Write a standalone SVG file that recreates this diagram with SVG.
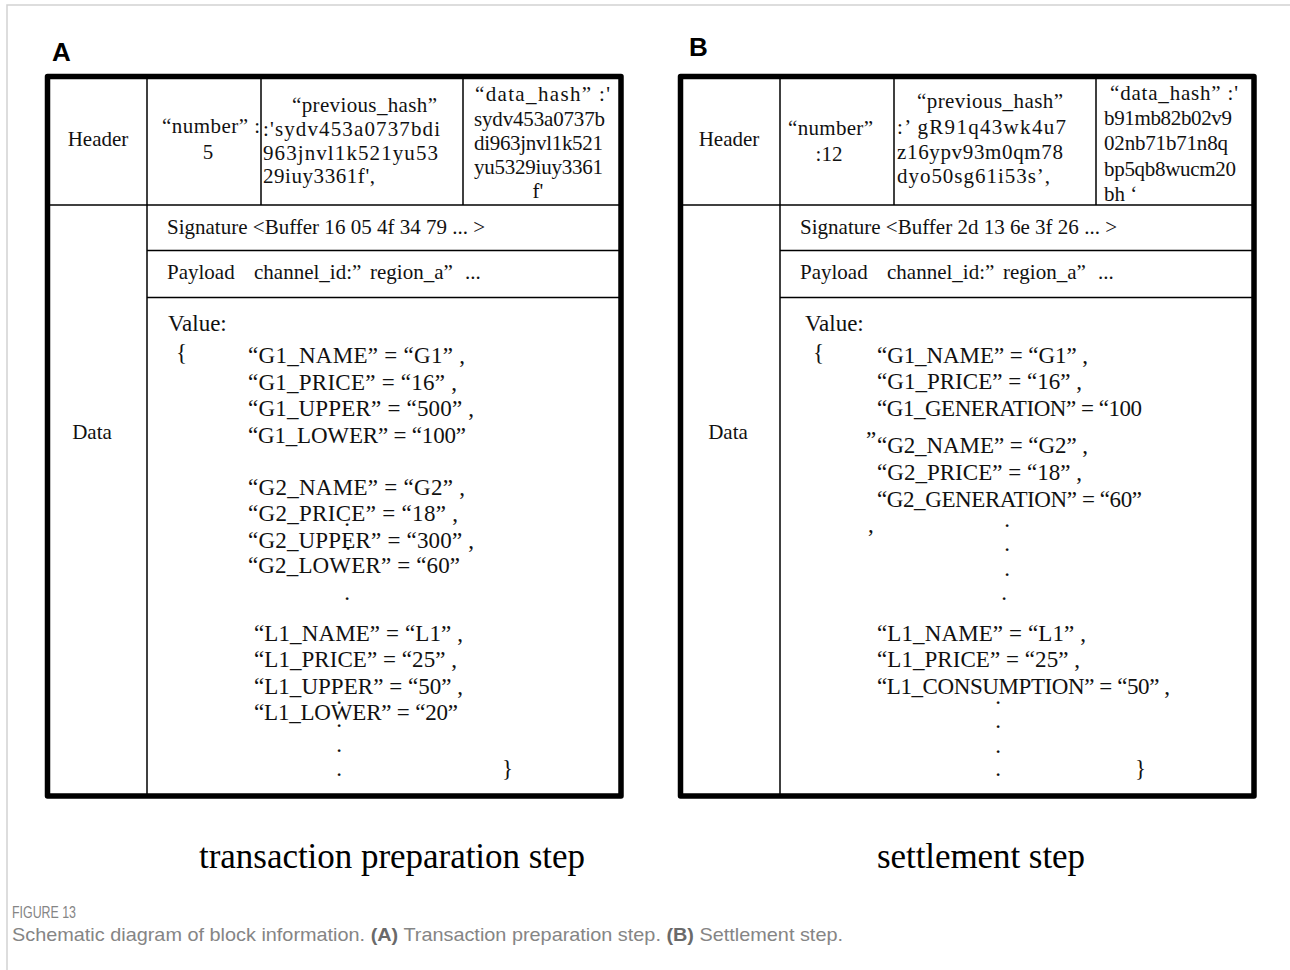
<svg xmlns="http://www.w3.org/2000/svg" width="1290" height="970" viewBox="0 0 1290 970">
  <style>
    .frame { stroke: #d2d2d2; stroke-width: 1.5; fill: none; }
    .outer { fill: none; stroke: #000; stroke-width: 5.5; stroke-linejoin: round; }
    .rule { stroke: #000; stroke-width: 1.5; }
    .t { font-family: "Liberation Serif", "Times New Roman", serif; font-size: 21px; fill: #111; }
    .v { font-size: 23px; }
    .mid { text-anchor: middle; }
    .panel { font-family: "Liberation Sans", Arial, sans-serif; font-weight: bold; font-size: 26px; fill: #000; }
    .step { font-family: "Liberation Serif", "Times New Roman", serif; font-size: 35px; fill: #000; }
    .fig { font-family: "Liberation Sans", Arial, sans-serif; fill: #858585; }
  </style>

  <rect width="1290" height="970" fill="#fff"/>
  <!-- page frame -->
  <path class="frame" d="M7 970 V5 H1290"/>

  <!-- panel letters -->
  <text class="panel" x="52" y="61">A</text>
  <text class="panel" x="689" y="56">B</text>

  <!-- ===== Block A ===== -->
  <g id="a-grid">
    <line class="rule" x1="147" y1="76" x2="147" y2="796"/>
    <line class="rule" x1="261" y1="76" x2="261" y2="205"/>
    <line class="rule" x1="463" y1="76" x2="463" y2="205"/>
    <line class="rule" x1="47.5" y1="205" x2="621" y2="205"/>
    <line class="rule" x1="147" y1="250.5" x2="621" y2="250.5"/>
    <line class="rule" x1="147" y1="297.5" x2="621" y2="297.5"/>
    <rect class="outer" x="47.5" y="76.5" width="573.5" height="719.5"/>
  </g>

  <g id="a-header-label">
    <text class="t mid" x="98" y="146">Header</text>
  </g>
  <g id="a-number">
    <text class="t" x="162" y="133" textLength="98">“number” :</text>
    <text class="t mid" x="208" y="159">5</text>
  </g>
  <g id="a-previous-hash">
    <text class="t" x="292" y="112" textLength="145">“previous_hash”</text>
    <text class="t" x="263" y="136" textLength="177">:'sydv453a0737bdi</text>
    <text class="t" x="263" y="160" textLength="175">963jnvl1k521yu53</text>
    <text class="t" x="263" y="183" textLength="112">29iuy3361f',</text>
  </g>
  <g id="a-data-hash">
    <text class="t" x="475" y="101" textLength="135">“data_hash” :'</text>
    <text class="t" x="474" y="126" textLength="131">sydv453a0737b</text>
    <text class="t" x="474" y="150" textLength="129">di963jnvl1k521</text>
    <text class="t" x="474" y="174" textLength="129">yu5329iuy3361</text>
    <text class="t mid" x="538" y="198">f'</text>
  </g>
  <g id="a-data-label">
    <text class="t mid" x="92" y="439">Data</text>
  </g>
  <g id="a-signature">
    <text class="t" x="167" y="234" textLength="318">Signature &lt;Buffer 16 05 4f 34 79  ... &gt;</text>
  </g>
  <g id="a-payload">
    <text class="t" y="279"><tspan x="167">Payload</tspan><tspan x="254">channel_id:”</tspan><tspan x="370">region_a”</tspan><tspan x="465">...</tspan></text>
  </g>
  <g id="a-value">
    <text class="t v" x="168" y="331">Value:</text>
    <text class="t v" x="176" y="360">{</text>
    <text class="t v" x="248" y="363" textLength="217">“G1_NAME” = “G1” ,</text>
    <text class="t v" x="248" y="390" textLength="209">“G1_PRICE” = “16” ,</text>
    <text class="t v" x="248" y="416" textLength="226">“G1_UPPER” = “500” ,</text>
    <text class="t v" x="248" y="443" textLength="218">“G1_LOWER” = “100”</text>
    <text class="t v" x="248" y="495" textLength="217">“G2_NAME” = “G2” ,</text>
    <text class="t v" x="248" y="521" textLength="210">“G2_PRICE” = “18” ,</text>
    <text class="t v" x="248" y="548" textLength="226">“G2_UPPER” = “300” ,</text>
    <text class="t v" x="248" y="573" textLength="212">“G2_LOWER” = “60”</text>
    <text class="t v" x="254" y="641" textLength="209">“L1_NAME” = “L1” ,</text>
    <text class="t v" x="254" y="667" textLength="203">“L1_PRICE” = “25” ,</text>
    <text class="t v" x="254" y="694" textLength="209">“L1_UPPER” = “50” ,</text>
    <text class="t v" x="254" y="720" textLength="204">“L1_LOWER” = “20”</text>
    <text class="t v" x="502" y="776">}</text>
    <!-- ellipsis dots running down the listing -->
    <g class="t v mid">
      <text x="347" y="526">.</text>
      <text x="348" y="550">.</text>
      <text x="347" y="600">.</text>
      <text x="339" y="704">.</text>
      <text x="339" y="727">.</text>
      <text x="339" y="752">.</text>
      <text x="339" y="776">.</text>
    </g>
  </g>

  <!-- ===== Block B ===== -->
  <g id="b-grid">
    <line class="rule" x1="780" y1="76" x2="780" y2="796"/>
    <line class="rule" x1="894" y1="76" x2="894" y2="205"/>
    <line class="rule" x1="1096" y1="76" x2="1096" y2="205"/>
    <line class="rule" x1="680.5" y1="205" x2="1254" y2="205"/>
    <line class="rule" x1="780" y1="250.5" x2="1254" y2="250.5"/>
    <line class="rule" x1="780" y1="297.5" x2="1254" y2="297.5"/>
    <rect class="outer" x="680.5" y="76.5" width="573.5" height="719.5"/>
  </g>

  <g id="b-header-label">
    <text class="t mid" x="729" y="146">Header</text>
  </g>
  <g id="b-number">
    <text class="t" x="788" y="135" textLength="85">“number”</text>
    <text class="t mid" x="829" y="161">:12</text>
  </g>
  <g id="b-previous-hash">
    <text class="t" x="917" y="108" textLength="146">“previous_hash”</text>
    <text class="t" x="897" y="134" textLength="169">:’  gR91q43wk4u7</text>
    <text class="t" x="897" y="159" textLength="166">z16ypv93m0qm78</text>
    <text class="t" x="897" y="183" textLength="153">dyo50sg61i53s’,</text>
  </g>
  <g id="b-data-hash">
    <text class="t" x="1110" y="100" textLength="128">“data_hash” :'</text>
    <text class="t" x="1104" y="125" textLength="128">b91mb82b02v9</text>
    <text class="t" x="1104" y="150" textLength="124">02nb71b71n8q</text>
    <text class="t" x="1104" y="176" textLength="132">bp5qb8wucm20</text>
    <text class="t" x="1104" y="201">bh  ‘</text>
  </g>
  <g id="b-data-label">
    <text class="t mid" x="728" y="439">Data</text>
  </g>
  <g id="b-signature">
    <text class="t" x="800" y="234" textLength="317">Signature &lt;Buffer 2d 13 6e 3f 26  ... &gt;</text>
  </g>
  <g id="b-payload">
    <text class="t" y="279"><tspan x="800">Payload</tspan><tspan x="887">channel_id:”</tspan><tspan x="1003">region_a”</tspan><tspan x="1098">...</tspan></text>
  </g>
  <g id="b-value">
    <text class="t v" x="805" y="331">Value:</text>
    <text class="t v" x="813" y="360">{</text>
    <text class="t v" x="877" y="363" textLength="211">“G1_NAME” = “G1” ,</text>
    <text class="t v" x="877" y="389" textLength="205">“G1_PRICE” = “16” ,</text>
    <text class="t v" x="877" y="416" textLength="265">“G1_GENERATION” = “100</text>
    <text class="t v" x="866" y="447">”</text>
    <text class="t v" x="877" y="453" textLength="211">“G2_NAME” = “G2” ,</text>
    <text class="t v" x="877" y="480" textLength="205">“G2_PRICE” = “18” ,</text>
    <text class="t v" x="877" y="507" textLength="265">“G2_GENERATION” = “60”</text>
    <text class="t v" x="868" y="532">,</text>
    <text class="t v" x="877" y="641" textLength="209">“L1_NAME” = “L1” ,</text>
    <text class="t v" x="877" y="667" textLength="203">“L1_PRICE” = “25” ,</text>
    <text class="t v" x="877" y="694" textLength="293">“L1_CONSUMPTION” = “50” ,</text>
    <text class="t v" x="1135" y="776">}</text>
    <!-- ellipsis dots running down the listing -->
    <g class="t v mid">
      <text x="1007" y="527">.</text>
      <text x="1007" y="551">.</text>
      <text x="1007" y="576">.</text>
      <text x="1004" y="600">.</text>
      <text x="998" y="704">.</text>
      <text x="998" y="728">.</text>
      <text x="998" y="753">.</text>
      <text x="998" y="776">.</text>
    </g>
  </g>

  <!-- step titles -->
  <g id="title-a">
    <text class="step" x="199" y="868" textLength="386">transaction preparation step</text>
  </g>
  <g id="title-b">
    <text class="step" x="877" y="868" textLength="208">settlement step</text>
  </g>

  <!-- figure caption -->
  <g id="caption">
    <text class="fig" x="12" y="918" font-size="17" textLength="64" lengthAdjust="spacingAndGlyphs">FIGURE 13</text>
    <text class="fig" x="12" y="941" font-size="19" textLength="831" lengthAdjust="spacingAndGlyphs">Schematic diagram of block information. <tspan font-weight="bold" fill="#6a6a6a">(A)</tspan> Transaction preparation step. <tspan font-weight="bold" fill="#6a6a6a">(B)</tspan> Settlement step.</text>
  </g>
</svg>
